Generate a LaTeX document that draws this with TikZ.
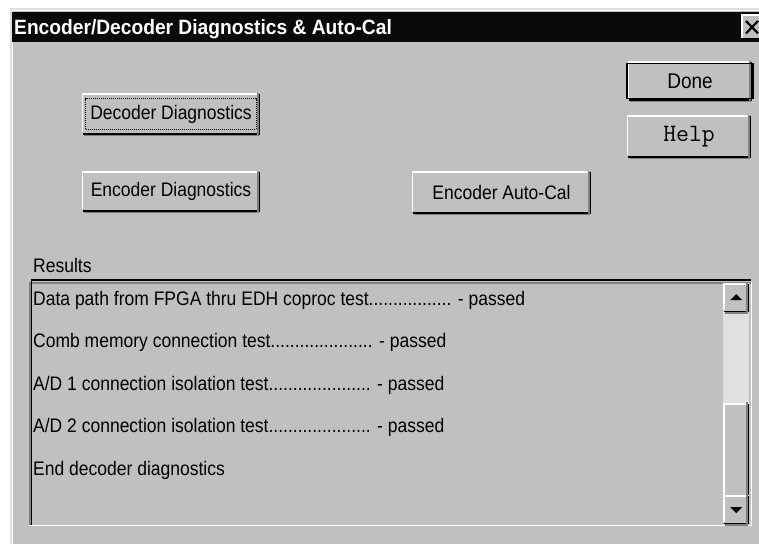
\documentclass[tikz,border=0pt]{standalone}
\usepackage{fontspec}
\setmainfont{Liberation Sans}
\definecolor{wingray}{HTML}{C0C0C0}
\definecolor{windark}{HTML}{808080}
\definecolor{wintrack}{HTML}{E0E0E0}
\definecolor{wintitle}{HTML}{0A0A0A}
\newcommand\tallt[1]{\scalebox{1}[1.12]{#1}}
\newcommand\raisedbevel[1]{%
  \draw[white, line width=1.5] ([shift={(0.75,-0.75)}]#1.south west) |- ([shift={(-0.75,-0.75)}]#1.north east);
  \draw[black, line width=1.5] ([shift={(0.75,0.75)}]#1.south west) -| ([shift={(-0.75,-0.75)}]#1.north east);
  \draw[windark, line width=1.5] ([shift={(2.25,2.25)}]#1.south west) -| ([shift={(-2.25,-2.25)}]#1.north east);
}
\begin{document}
\begin{tikzpicture}[x=1pt,y=-1pt,
  btn/.style={fill=wingray, inner sep=0pt, font=\fontsize{17.5}{20}\selectfont},
  lbl/.style={anchor=base west, inner sep=0pt, font=\fontsize{17.5}{20}\selectfont}]
\useasboundingbox (0,0) rectangle (759,544);
\fill[white] (0,0) rectangle (759,544);
% window frame and body
\fill[wingray] (10,8) rectangle (759,544);
\draw[wintrack, line width=1.5] (10.75,544) -- (10.75,8.75) -- (759,8.75);
\draw[white, line width=1.5] (12.25,544) -- (12.25,10.25) -- (759,10.25);
% title bar
\fill[wintitle] (12,12) rectangle (759,42);
\node[anchor=base west, inner sep=0pt, text=white, font=\bfseries\fontsize{19.2}{22}\selectfont] (title) at (14,34.5) {\scalebox{1}[1.08]{Encoder/Decoder Diagnostics \& Auto-Cal}};
% close button
\node[fill=wingray, inner sep=0pt, minimum width=22, minimum height=24, anchor=north west] (close) at (741,15) {};
\draw[white, line width=1.5] ([shift={(0.75,0)}]close.south west) |- (close.north east);
\draw[black, line width=1.5] ([yshift=0.75]close.south west) -- ([yshift=0.75]close.south east);
\draw[black, line width=2.2] ([shift={(5,6)}]close.north west) -- ([shift={(17,-6)}]close.south west)
      ([shift={(5,-6)}]close.south west) -- ([shift={(17,6)}]close.north west);
% Done (default) button
\node[btn, minimum width=124, minimum height=36, font=\fontsize{19}{22}\selectfont] (done) at (690,81) {\tallt{Done}};
\raisedbevel{done}
\draw[black, line width=1.5] ([shift={(-0.75,0.75)}]done.north west) rectangle ([shift={(0.75,-0.75)}]done.south east);
% Help button
\node[btn, minimum width=124, minimum height=39, font=\ttfamily\fontsize{25}{27}\selectfont] (help) at (689,136.5) {Help};
\raisedbevel{help}
% Decoder Diagnostics (focused)
\node[btn, minimum width=178, minimum height=38] (dec) at (171,114) {\tallt{Decoder Diagnostics}};
\raisedbevel{dec}
\draw[black, line width=1, dash pattern=on 1pt off 1pt] ([shift={(4,-4)}]dec.south west) rectangle ([shift={(-4,4)}]dec.north east);
% Encoder Diagnostics
\node[btn, minimum width=178, minimum height=37] (enc) at (171,191.5) {\tallt{Encoder Diagnostics}};
\raisedbevel{enc}
% Encoder Auto-Cal
\node[btn, minimum width=179, minimum height=39] (cal) at (501.5,192.5) {\tallt{Encoder Auto-Cal}};
\raisedbevel{cal}
% Results label
\node[lbl] (reslbl) at (33,272) {\tallt{Results}};
% list box (sunken)
\node[fill=wingray, inner sep=0pt, minimum width=723, minimum height=244, anchor=north west] (list) at (29,282) {};
\draw[windark, line width=1.5] ([shift={(0.75,0)}]list.south west) |- ([yshift=-0.75]list.north east);
\draw[black, line width=1.5] ([shift={(2.25,-1.5)}]list.south west) |- ([shift={(-1.5,-2.25)}]list.north east);
\draw[white, line width=1.5] ([yshift=0.75]list.south west) -| ([xshift=-0.75]list.north east);
% results text
\node[lbl] (r1) at (33,305) {\tallt{Data path from FPGA thru EDH coproc test................. - passed}};
\node[lbl] (r2) at (33,347.5) {\tallt{Comb memory connection test..................... - passed}};
\node[lbl] (r3) at (33,390) {\tallt{A/D 1 connection isolation test..................... - passed}};
\node[lbl] (r4) at (33,432.5) {\tallt{A/D 2 connection isolation test..................... - passed}};
\node[lbl] (r5) at (33,475) {\tallt{End decoder diagnostics}};
% scrollbar
\fill[wintrack] (723,310) rectangle (749,405);
\node[fill=wingray, inner sep=0pt, minimum width=26, minimum height=26, anchor=north west] (up) at (723,284.5) {};
\raisedbevel{up}
\fill[black] ([shift={(-6,2.5)}]up.center) -- ([shift={(6,2.5)}]up.center) -- ([shift={(0,-3.5)}]up.center) -- cycle;
\node[fill=wingray, inner sep=0pt, minimum width=26, minimum height=91, anchor=north west] (thumb) at (723,404.5) {};
\raisedbevel{thumb}
\node[fill=wingray, inner sep=0pt, minimum width=26, minimum height=26, anchor=north west] (down) at (723,496.5) {};
\raisedbevel{down}
\fill[black] ([shift={(-6,-2.5)}]down.center) -- ([shift={(6,-2.5)}]down.center) -- ([shift={(0,3.5)}]down.center) -- cycle;
\end{tikzpicture}
\end{document}
